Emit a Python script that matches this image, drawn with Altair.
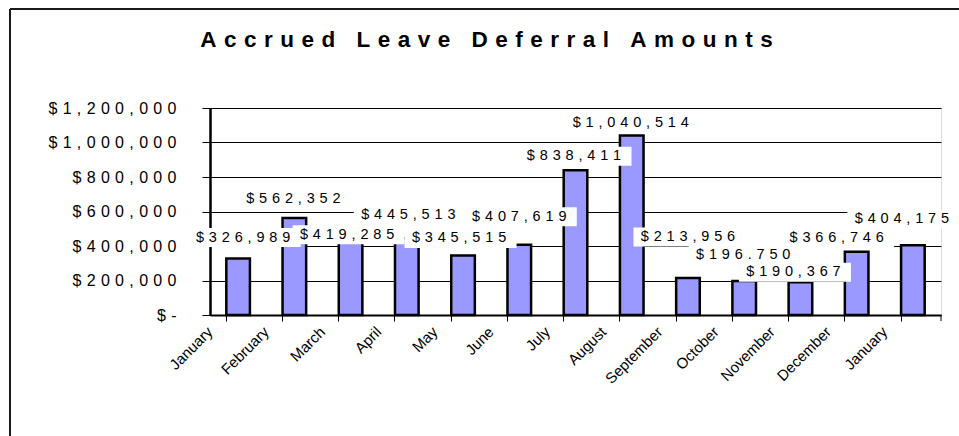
import json
import altair as alt
import pandas as pd

# ---- data ----
months = ["January", "February", "March", "April", "May", "June", "July",
          "August", "September", "October", "November", "December", "January"]
values = [326989, 562352, 419285, 445513, 345515, 407619, 838411,
          1040514, 213956, 196750, 190367, 366746, 404175]
value_labels = ["$326,989", "$562,352", "$419,285", "$445,513", "$345,515",
                "$407,619", "$838,411", "$1,040,514", "$213,956", "$196.750",
                "$190,367", "$366,746", "$404,175"]
y_ticks = [0, 200000, 400000, 600000, 800000, 1000000, 1200000]
y_tick_labels = ["$ -", "$200,000", "$400,000", "$600,000", "$800,000",
                 "$1,000,000", "$1,200,000"]
title_text = "Accrued Leave Deferral Amounts"

# ---- style: data-label nudges (px, relative to bar top centre), as in the reference ----
LABEL_NUDGE = [(5, -21), (-1, -19), (-3.5, -8), (1.5, -23), (-4, -17), (0, -28),
               (-1.5, -14), (-1, -13), (0, -41), (-1, -26), (-7, -10), (-20, -14),
               (-11, -26)]

# ---- letter spacing helper (Excel-like spaced text) ----
SP = "\u2004"


def spaced(s):
    return SP.join(c for c in s if c != " ")


df = pd.DataFrame({
    "idx": list(range(len(months))),
    "month": months,
    "value": values,
    "label": [spaced(s) for s in value_labels],
})

W, H = 731, 207
FONT = "Liberation Sans"

month_expr = json.dumps(months) + "[datum.value]"
ylab_expr = json.dumps({str(t): spaced(l) for t, l in zip(y_ticks, y_tick_labels)}) + "[datum.value]"

x_enc = alt.X(
    "idx:O",
    scale=alt.Scale(paddingInner=0.58, paddingOuter=0.29),
    axis=alt.Axis(
        title=None, bandPosition=0, labelExpr=month_expr, labelAngle=-45,
        labelAlign="right", labelBaseline="top", labelPadding=3,
        labelOffset=-33, labelOverlap=False,
        tickSize=6, tickColor="black", tickWidth=1,
        domain=True, domainColor="black", domainWidth=2, grid=False,
        labelFont=FONT, labelFontSize=15, labelColor="black",
    ),
)
y_enc = alt.Y(
    "value:Q",
    scale=alt.Scale(domain=[0, 1200000], nice=False, zero=True),
    axis=alt.Axis(
        title=None, values=y_ticks, tickCount=20, labelExpr=ylab_expr, grid=True,
        gridColor="black", gridWidth=1, gridOpacity=1, tickSize=8,
        tickColor="black", tickWidth=1, labelPadding=26, labelFont=FONT,
        labelFontSize=16, labelColor="black",
        domain=True, domainColor="black", domainWidth=2.5,
        labelOverlap=False, labelFlush=False,
    ),
)

bars = alt.Chart(df).mark_bar(
    color="#9999FF", stroke="black", strokeWidth=2.5
).encode(x=x_enc, y=y_enc)

label_layers = []
for i, (ndx, ndy) in enumerate(LABEL_NUDGE):
    box_w = 40 + 9 * len(value_labels[i])
    cx, cy, hw, hh = ndx + 1.5, ndy, box_w / 2, 9.5
    path = f"M{cx - hw},{cy - hh}H{cx + hw}V{cy + hh}H{cx - hw}Z"
    base = alt.Chart(df).transform_filter(alt.datum.idx == i)
    box = base.mark_point(
        shape=path, size=4, filled=True, fill="white", opacity=1, strokeWidth=0,
    ).encode(x="idx:O", y="value:Q")
    txt = base.mark_text(
        dx=ndx, dy=ndy, baseline="middle", align="center", fontSize=14.5,
        font=FONT, color="black",
    ).encode(x="idx:O", y="value:Q", text="label:N")
    label_layers += [box, txt]

frame_data = alt.Data(values=[{"k": 0}])
top_line = alt.Chart(frame_data).mark_rule(color="#1a1a1a", strokeWidth=2).encode(
    x=alt.value(-200), x2=alt.value(800), y=alt.value(-99))
left_line = alt.Chart(frame_data).mark_rule(color="#1a1a1a", strokeWidth=2).encode(
    x=alt.value(-200), y=alt.value(-99), y2=alt.value(400))
last_tick = alt.Chart(frame_data).mark_rule(color="black", strokeWidth=1).encode(
    x=alt.value(W), y=alt.value(H), y2=alt.value(H + 6))

chart = alt.layer(bars, *label_layers, top_line, left_line, last_tick).properties(
    width=W,
    height=H,
    title=alt.TitleParams(
        text=SP.join(title_text), font=FONT, fontSize=22.5, fontWeight="bold",
        color="black", anchor="middle", frame="group", dx=-89, offset=-61,
        baseline="alphabetic",
    ),
    autosize=alt.AutoSizeParams(type="none"),
    padding={"left": 210, "top": 108, "right": 18, "bottom": 121},
    background="white",
).configure_view(
    fill="#FFFF99", stroke="black", strokeWidth=2
).configure(font=FONT)

chart.save("out.html", embed_options={"renderer": "svg", "actions": False})
